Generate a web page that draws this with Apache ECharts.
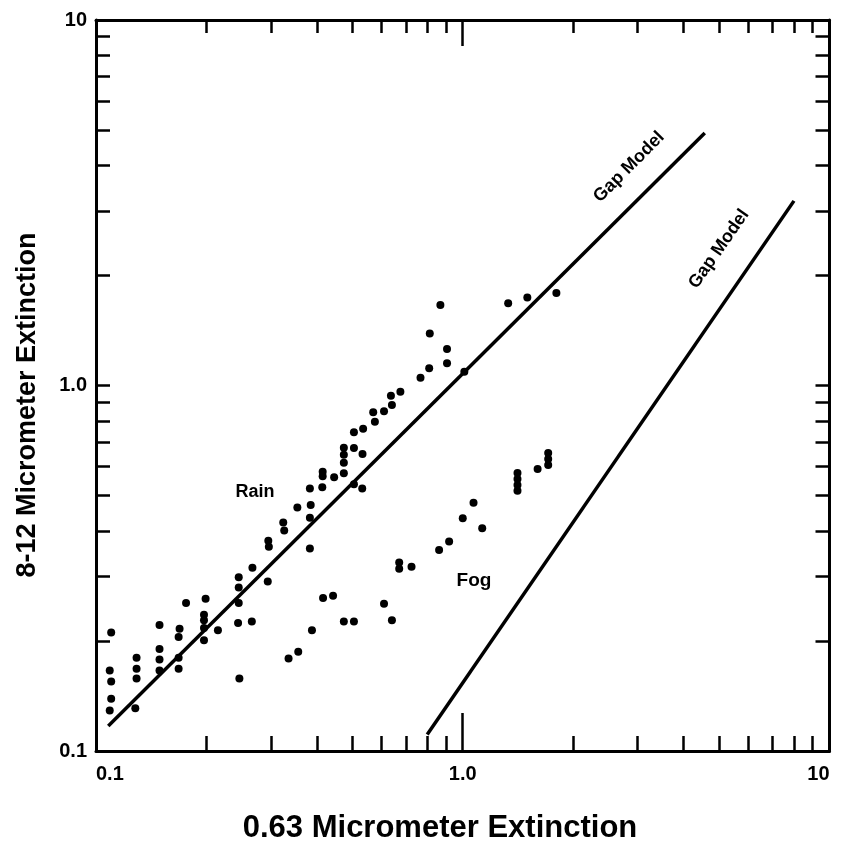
<!DOCTYPE html>
<html>
<head>
<meta charset="utf-8">
<script src="https://cdn.jsdelivr.net/npm/echarts@6/dist/echarts.min.js"></script>
<style>
  html, body { margin: 0; padding: 0; background: #fff; }
  #chart { width: 842px; height: 859px; }
</style>
</head>
<body>
<div id="chart"></div>
<script>
// Measured extinction pairs: 0.63 µm (x) vs 8-12 µm (y)
const rainX = [0.110, 0.109, 0.110, 0.110, 0.109, 0.129, 0.129, 0.129, 0.128, 0.149,
               0.149, 0.149, 0.149, 0.176, 0.169, 0.168, 0.168, 0.168, 0.199, 0.197,
               0.197, 0.197, 0.197, 0.215, 0.245, 0.245, 0.245, 0.244, 0.267, 0.266,
               0.294, 0.295, 0.296, 0.324, 0.326, 0.354, 0.383, 0.385, 0.383, 0.383,
               0.415, 0.415, 0.414, 0.446, 0.474, 0.474, 0.474, 0.474, 0.505, 0.505,
               0.533, 0.532, 0.535, 0.505, 0.570, 0.576, 0.610, 0.637, 0.641, 0.676,
               0.767, 0.810, 0.813, 0.869, 0.906, 0.906, 1.01, 1.33, 1.50, 1.80];
const rainY = [0.211, 0.166, 0.155, 0.139, 0.129, 0.180, 0.168, 0.158, 0.131, 0.221,
               0.190, 0.178, 0.166, 0.254, 0.216, 0.205, 0.180, 0.168, 0.261, 0.236,
               0.228, 0.217, 0.201, 0.214, 0.299, 0.280, 0.254, 0.224, 0.317, 0.226,
               0.291, 0.376, 0.362, 0.422, 0.401, 0.464, 0.523, 0.471, 0.435, 0.358,
               0.581, 0.565, 0.527, 0.561, 0.676, 0.646, 0.615, 0.575, 0.674, 0.537,
               0.650, 0.523, 0.762, 0.745, 0.845, 0.796, 0.850, 0.938, 0.884, 0.962,
               1.05, 1.115, 1.388, 1.661, 1.259, 1.150, 1.09, 1.68, 1.74, 1.79];

const fogX = [0.246, 0.335, 0.356, 0.388, 0.416, 0.443, 0.474, 0.505, 0.610, 0.641,
              0.671, 0.671, 0.725, 0.862, 0.918, 1.00, 1.07, 1.13, 1.41, 1.41,
              1.41, 1.41, 1.60, 1.71, 1.71, 1.71];
const fogY = [0.158, 0.179, 0.187, 0.214, 0.262, 0.266, 0.226, 0.226, 0.253, 0.228,
              0.328, 0.315, 0.319, 0.355, 0.374, 0.433, 0.478, 0.407, 0.576, 0.555,
              0.534, 0.515, 0.591, 0.654, 0.629, 0.606];

// Gap model curves (end points)
const gapRainX = [0.108, 4.57];
const gapRainY = [0.117, 4.91];
const gapFogX = [0.80, 8.0];
const gapFogY = [0.111, 3.2];

// Axis ticks
const majorTicks = [0.1, 1, 10];
const minorTicks = [0.2, 0.3, 0.4, 0.5, 0.6, 0.7, 0.8, 0.9, 2, 3, 4, 5, 6, 7, 8, 9];
const midTick = [1];

const FONT = "'Liberation Sans', Arial, Helvetica, sans-serif";
const INK = '#000';

function pairs(xs, ys) { return xs.map((x, i) => [x, ys[i]]); }
function tickLabel(v) { return v === 1 ? '1.0' : String(v); }

function logAxis(extra) {
  return Object.assign({
    type: 'log', logBase: 10, min: 0.1, max: 10,
    splitLine: { show: false },
    axisLine: { show: false },
    axisTick: { show: false },
    axisLabel: { show: false }
  }, extra);
}
const frameLine = { show: true, lineStyle: { color: INK, width: 3 } };
function ticks(values, len) {
  return { show: true, inside: true, length: len, customValues: values,
           lineStyle: { color: INK, width: 2.5 } };
}
const labelStyle = { show: true, customValues: majorTicks, formatter: tickLabel,
                     color: INK, fontFamily: FONT, fontWeight: 'bold', fontSize: 20 };

const chart = echarts.init(document.getElementById('chart'), null, { renderer: 'canvas' });

chart.setOption({
  animation: false,
  backgroundColor: '#fff',
  grid: { left: 96, right: 12.5, top: 20, bottom: 108, outerBoundsMode: 'none' },
  xAxis: [
    logAxis({ position: 'bottom', axisLine: frameLine, axisTick: ticks(minorTicks, 15),
              axisLabel: Object.assign({ margin: 13, alignMinLabel: 'left', alignMaxLabel: 'right' }, labelStyle) }),
    logAxis({ position: 'bottom', axisTick: ticks(midTick, 38) }),
    logAxis({ position: 'top', axisLine: frameLine, axisTick: ticks(minorTicks, 13) }),
    logAxis({ position: 'top', axisTick: ticks(midTick, 26) })
  ],
  yAxis: [
    logAxis({ position: 'left', axisLine: frameLine, axisTick: ticks(minorTicks, 14),
              axisLabel: Object.assign({ margin: 9 }, labelStyle) }),
    logAxis({ position: 'left', axisTick: ticks(midTick, 14) }),
    logAxis({ position: 'right', axisLine: frameLine, axisTick: ticks(minorTicks, 14) }),
    logAxis({ position: 'right', axisTick: ticks(midTick, 14) })
  ],
  series: [
    { name: 'Rain', type: 'scatter', xAxisIndex: 0, yAxisIndex: 0,
      symbol: 'circle', symbolSize: 8, itemStyle: { color: INK, opacity: 1 },
      data: pairs(rainX, rainY) },
    { name: 'Fog', type: 'scatter', xAxisIndex: 0, yAxisIndex: 0,
      symbol: 'circle', symbolSize: 8, itemStyle: { color: INK, opacity: 1 },
      data: pairs(fogX, fogY) },
    { name: 'Gap Model (rain)', type: 'line', xAxisIndex: 0, yAxisIndex: 0,
      symbol: 'none', lineStyle: { color: INK, width: 3.5 },
      data: pairs(gapRainX, gapRainY) },
    { name: 'Gap Model (fog)', type: 'line', xAxisIndex: 0, yAxisIndex: 0,
      symbol: 'none', lineStyle: { color: INK, width: 3.5 },
      data: pairs(gapFogX, gapFogY) }
  ],
  graphic: [
    { type: 'text', x: 28, y: 405, rotation: Math.PI / 2,
      style: { text: '8-12 Micrometer Extinction', font: 'bold 27px ' + FONT,
               fill: INK, align: 'center', verticalAlign: 'middle' } },
    { type: 'text', x: 440, y: 828,
      style: { text: '0.63 Micrometer Extinction', font: 'bold 31px ' + FONT,
               fill: INK, align: 'center', verticalAlign: 'middle' } },
    { type: 'text', x: 255, y: 492,
      style: { text: 'Rain', font: 'bold 18px ' + FONT, fill: INK,
               align: 'center', verticalAlign: 'middle' } },
    { type: 'text', x: 474, y: 581,
      style: { text: 'Fog', font: 'bold 19px ' + FONT, fill: INK,
               align: 'center', verticalAlign: 'middle' } },
    { type: 'text', x: 629, y: 167, rotation: Math.PI / 4,
      style: { text: 'Gap Model', font: 'bold 18px ' + FONT, fill: INK,
               align: 'center', verticalAlign: 'middle' } },
    { type: 'text', x: 719, y: 249, rotation: 55 * Math.PI / 180,
      style: { text: 'Gap Model', font: 'bold 18px ' + FONT, fill: INK,
               align: 'center', verticalAlign: 'middle' } }
  ]
});
</script>
</body>
</html>
